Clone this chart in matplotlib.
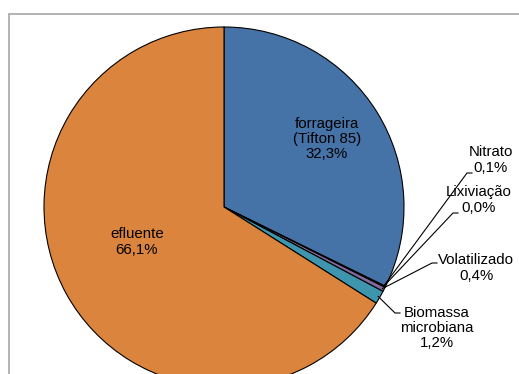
import numpy as np
import matplotlib
matplotlib.use("Agg")
import matplotlib.pyplot as plt
from matplotlib.patches import Rectangle

plt.rcParams['font.family'] = ['Liberation Sans', 'DejaVu Sans']

# Nitrogen destination shares (%)
categories = ["forrageira\n(Tifton 85)", "Nitrato", "Lixiviação", "Volatilizado",
              "Biomassa\nmicrobiana", "efluente"]
values = [32.3, 0.1, 0.0, 0.4, 1.2, 66.1]
value_labels = ["32,3%", "0,1%", "0,0%", "0,4%", "1,2%", "66,1%"]
colors = ["#4572A7", "#AA4643", "#89A54E", "#80699B", "#3D96AE", "#DB843D"]

W, H = 519, 374
fig = plt.figure(figsize=(W / 100, H / 100), dpi=100)
ax = fig.add_axes([0, 0, 1, 1])
ax.set_xlim(0, W)
ax.set_ylim(0, H)
ax.axis("off")

# chart area border
ax.add_patch(Rectangle((9, -20), 700, H - 14 + 20, fill=False,
                       edgecolor="#A6A6A6", linewidth=1.2))

cx, cy, r = 224, H - 207, 180
wedges, _ = ax.pie(values, colors=colors, startangle=90, counterclock=False,
                   center=(cx, cy), radius=r, frame=True,
                   wedgeprops=dict(edgecolor="black", linewidth=0.8))
ax.set_xlim(0, W)
ax.set_ylim(0, H)
ax.set_aspect("equal")
ax.axis("off")

# label placement (pixel coordinates, y measured from top) and leader elbows
label_pos = [(327, 139), (491, 160), (479, 200), (476, 268), (437, 328), (137, 242)]
leader_end = [None, (467, 173), (453, 213), (432, 263), (395, 313), None]

for i, (name, vl) in enumerate(zip(categories, value_labels)):
    lx, ly = label_pos[i]
    ax.text(lx, H - ly, f"{name}\n{vl}", ha="center", va="center",
            multialignment="center", fontsize=10.8, color="black", linespacing=1.1)
    if leader_end[i] is not None:
        w = wedges[i]
        mid = np.deg2rad((w.theta1 + w.theta2) / 2)
        sx = cx + r * 0.99 * np.cos(mid)
        sy = cy + r * 0.99 * np.sin(mid)
        ex, ey = leader_end[i]
        ax.plot([sx, ex, ex + 5], [sy, H - ey, H - ey], color="black", linewidth=0.8)

fig.savefig("out.png", dpi=100)
